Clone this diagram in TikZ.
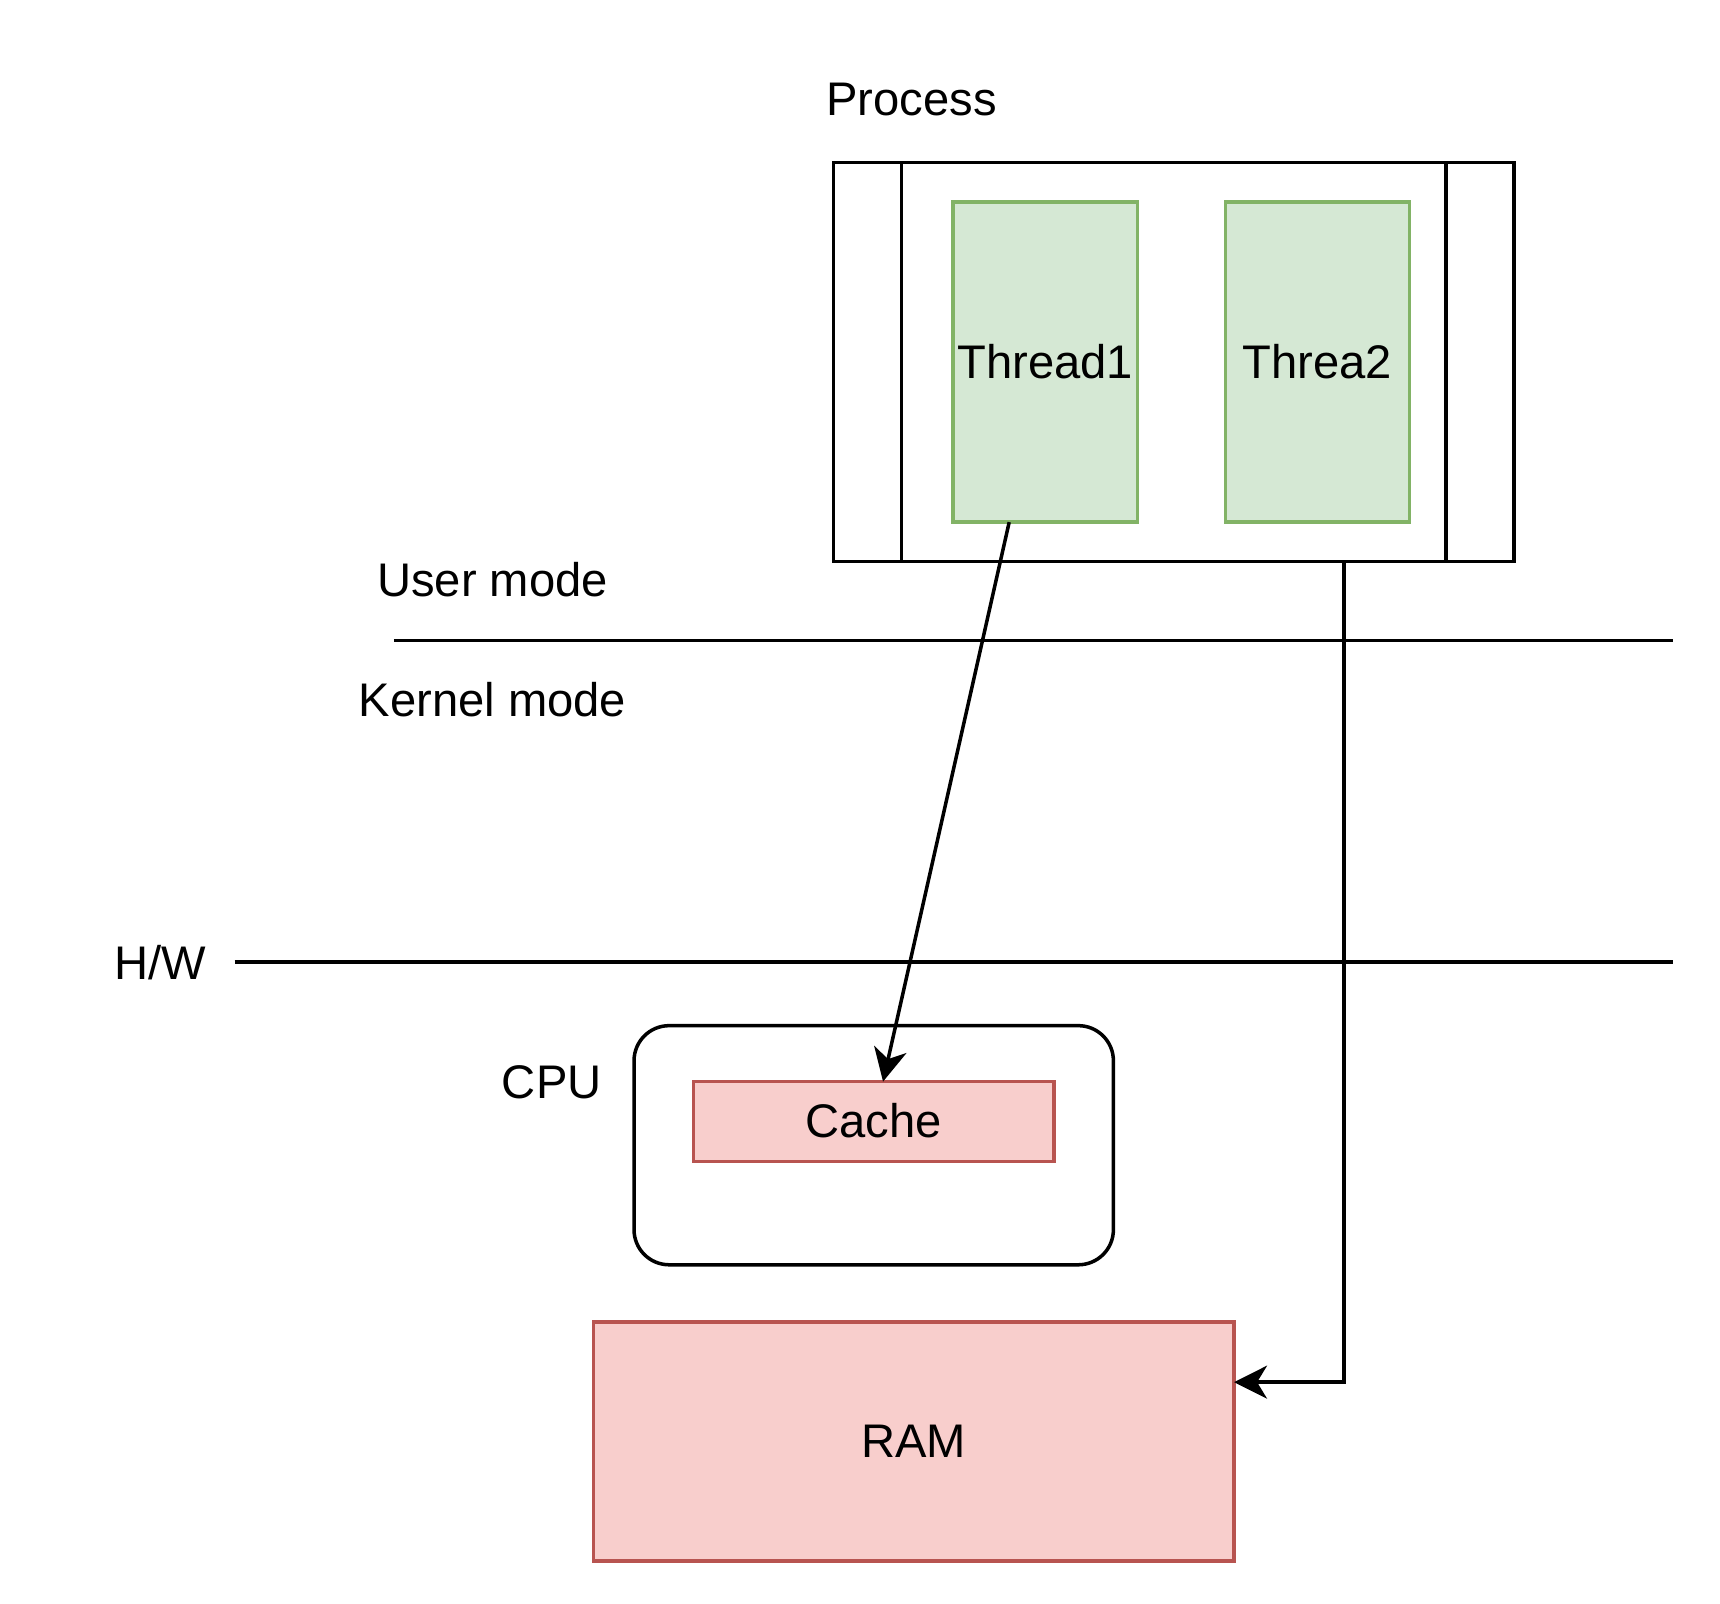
\documentclass[tikz,border=0pt]{standalone}
\usepackage{fontspec}
\setmainfont{Liberation Sans}
\usetikzlibrary{arrows.meta,calc}
\definecolor{gfill}{HTML}{D5E8D4}
\definecolor{gdraw}{HTML}{82B366}
\definecolor{rfill}{HTML}{F8CECC}
\definecolor{rdraw}{HTML}{B85450}
\begin{document}
\begin{tikzpicture}[x=1pt,y=-1pt,line width=3.2pt,
  font=\fontsize{43}{50}\selectfont,
  plainbox/.style={draw=black,rectangle,inner sep=0pt,outer sep=0pt},
  greenbox/.style={draw=gdraw,fill=gfill,rectangle,inner sep=0pt,outer sep=0pt,minimum width=168pt,minimum height=292pt},
  redbox/.style={draw=rdraw,fill=rfill,rectangle,inner sep=0pt,outer sep=0pt},
  lbl/.style={inner sep=0pt},
  conn/.style={draw=black,-{Stealth[length=30pt,width=30pt,inset=9pt]}}]
\useasboundingbox (0,0) rectangle (1568,1462);
% Process
\node[plainbox,minimum width=620pt,minimum height=364pt] (proc) at (1070,330) {};
\draw ([xshift=62pt]proc.north west) -- ([xshift=62pt]proc.south west);
\draw ([xshift=-62pt]proc.north east) -- ([xshift=-62pt]proc.south east);
\node[lbl] (proclbl) at (831,91) {Process};
\node[greenbox] (t1) at (953,330) {Thread1};
\node[greenbox] (t2) at (1201,330) {Threa2};
% mode lines
\node[lbl] (user) at (449,528) {User mode};
\node[lbl] (kernel) at (449,638) {Kernel mode};
\node[lbl] (hw) at (146,878) {H/W};
\coordinate (u1) at (359,584);
\coordinate (u2) at (1525,584);
\coordinate (h1) at (214,877);
\coordinate (h2) at (1525,877);
\draw (u1) -- (u2);
\draw (h1) -- (h2);
% CPU
\node[plainbox,rounded corners=32pt,minimum width=437pt,minimum height=218pt] (cpu) at (796.5,1044) {};
\node[lbl] (cpulbl) at (503,987) {CPU};
\node[redbox,minimum width=329pt,minimum height=73pt] (cache) at (796.5,1022.5) {\raisebox{2pt}{Cache}};
% RAM
\node[redbox,minimum width=584pt,minimum height=218pt] (ram) at (833,1314) {RAM};
% connectors
\draw[conn] ([xshift=-33pt]t1.south) -- ([xshift=8.5pt]cache.north);
\draw[conn] ([xshift=155pt]proc.south) |- ([yshift=54pt]ram.east);
\end{tikzpicture}
\end{document}
